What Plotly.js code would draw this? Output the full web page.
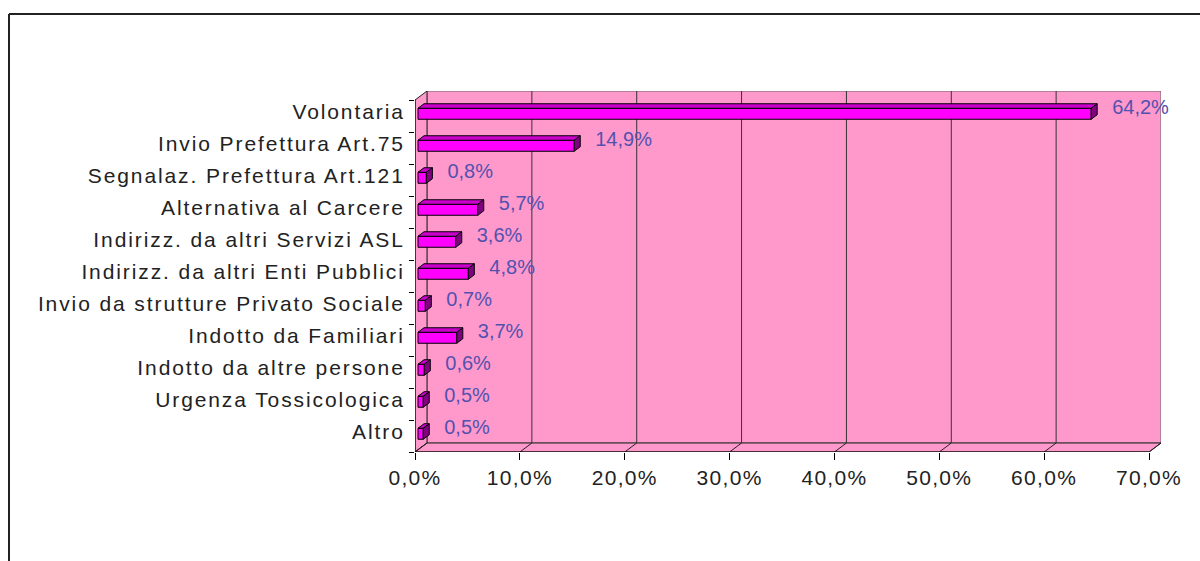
<!DOCTYPE html>
<html>
<head>
<meta charset="utf-8">
<script src="https://cdn.plot.ly/plotly-3.0.1.min.js"></script>
<style>
  html, body { margin:0; padding:0; background:#fff; }
  #chart { width:1200px; height:561px; }
  .xtick text { letter-spacing: 1.3px; }
  .ytick text { letter-spacing: 1.9px; }
</style>
</head>
<body>
<div id="chart"></div>
<script>
// ---- data ----
const categories = [
  'Volontaria',
  'Invio Prefettura Art.75',
  'Segnalaz. Prefettura Art.121',
  'Alternativa al Carcere',
  'Indirizz. da altri Servizi ASL',
  'Indirizz. da altri Enti Pubblici',
  'Invio da strutture Privato Sociale',
  'Indotto da Familiari',
  'Indotto da altre persone',
  'Urgenza Tossicologica',
  'Altro'
];
const values = [64.2, 14.9, 0.8, 5.7, 3.6, 4.8, 0.7, 3.7, 0.6, 0.5, 0.5];
const xTickValues = [0, 10, 20, 30, 40, 50, 60, 70];
const xTickLabels = ['0,0%', '10,0%', '20,0%', '30,0%', '40,0%', '50,0%', '60,0%', '70,0%'];

// ---- geometry (pixels) ----
const FIG_W = 1200, FIG_H = 561;
const L = 415, R = 1161, T = 91, B = 452;
const W = R - L, H = B - T;
const DEPTH_PX_X = 12, DEPTH_PX_Y = 9;
const xMax = xTickValues[xTickValues.length - 1];
const pxPerX = (W - DEPTH_PX_X) / xMax;
const pxPerCat = 32;
const DX = DEPTH_PX_X / pxPerX;
const DY = DEPTH_PX_Y / pxPerCat;
const n = categories.length;
const yBottom = n - 0.5, yTop = -0.5 - DY;
const barHalf = 5.5 / pxPerCat;
const fFront = 0.25, fBack = 0.75;

const idx = categories.map((c, i) => i);

// front faces
const barTrace = {
  type: 'bar', orientation: 'h',
  y: idx.map(i => i - fFront * DY),
  x: values,
  base: values.map(() => fFront * DX),
  width: 2 * barHalf,
  marker: { color: '#FF00FF', line: { color: '#000', width: 1 } },
  hoverinfo: 'skip', showlegend: false
};

// top and side faces
const topX = [], topY = [], sideX = [], sideY = [];
values.forEach((v, i) => {
  const x0 = fFront * DX, x1 = v + fFront * DX;
  const yc = i - fFront * DY;
  const yt = yc - barHalf, yb = yc + barHalf;
  const ddx = (fBack - fFront) * DX, ddy = (fBack - fFront) * DY;
  topX.push(x0, x1, x1 + ddx, x0 + ddx, x0, null);
  topY.push(yt, yt, yt - ddy, yt - ddy, yt, null);
  sideX.push(x1, x1 + ddx, x1 + ddx, x1, x1, null);
  sideY.push(yt, yt - ddy, yb - ddy, yb, yt, null);
});
const topTrace = {
  type: 'scatter', mode: 'lines', x: topX, y: topY, fill: 'toself',
  fillcolor: '#CC00CC', line: { color: '#000', width: 1 },
  hoverinfo: 'skip', showlegend: false
};
const sideTrace = {
  type: 'scatter', mode: 'lines', x: sideX, y: sideY, fill: 'toself',
  fillcolor: '#800080', line: { color: '#000', width: 1 },
  hoverinfo: 'skip', showlegend: false
};

// data labels
const LABEL_GAP_PX = 15, LABEL_UP_PX = 7;
const labelTrace = {
  type: 'scatter', mode: 'text', yaxis: 'y2',
  x: values.map(v => v + fBack * DX + LABEL_GAP_PX / pxPerX),
  y: idx.map(i => i - LABEL_UP_PX / pxPerCat),
  text: values.map(v => v.toFixed(1).replace('.', ',') + '%'),
  textposition: 'middle right',
  textfont: { family: 'Liberation Sans Narrow, Arial Narrow, Liberation Sans, sans-serif', size: 20, color: '#5252AE' },
  cliponaxis: false, hoverinfo: 'skip', showlegend: false
};

// ---- walls, gridlines, frame ----
const pink = '#FF99CC';
const shapes = [];
shapes.push({ type: 'rect', xref: 'x', yref: 'y', layer: 'below',
  x0: DX, x1: xMax + DX, y0: yBottom - DY, y1: -0.5 - DY,
  fillcolor: pink, line: { color: '#666', width: 1 } });
shapes.push({ type: 'path', xref: 'x', yref: 'y', layer: 'below',
  path: `M0,${-0.5} L${DX},${-0.5 - DY} L${DX},${yBottom - DY} L0,${yBottom} Z`,
  fillcolor: pink, line: { color: '#222', width: 1 } });
shapes.push({ type: 'path', xref: 'x', yref: 'y', layer: 'below',
  path: `M0,${yBottom} L${xMax},${yBottom} L${xMax + DX},${yBottom - DY} L${DX},${yBottom - DY} Z`,
  fillcolor: pink, line: { color: '#222', width: 1 } });
xTickValues.forEach(v => {
  if (v > 0 && v < xMax) {
    shapes.push({ type: 'line', xref: 'x', yref: 'y', layer: 'below',
      x0: v + DX, x1: v + DX, y0: yBottom - DY, y1: -0.5 - DY,
      line: { color: '#333', width: 1 } });
  }
  shapes.push({ type: 'line', xref: 'x', yref: 'y', layer: 'below',
    x0: v, x1: v + DX, y0: yBottom, y1: yBottom - DY,
    line: { color: '#222', width: 1 } });
});
shapes.push({ type: 'line', xref: 'x', yref: 'y', x0: 0, x1: 0, y0: -0.5, y1: yBottom,
  line: { color: '#000', width: 1 } });
shapes.push({ type: 'line', xref: 'x', yref: 'y', x0: 0, x1: xMax, y0: yBottom, y1: yBottom,
  line: { color: '#000', width: 1 } });
const px2paperX = px => (px - L) / W;
const px2paperY = py => (B - py) / H;
shapes.push({ type: 'line', xref: 'paper', yref: 'paper',
  x0: px2paperX(9), x1: px2paperX(FIG_W + 5), y0: px2paperY(14), y1: px2paperY(14),
  line: { color: '#222', width: 2 } });
shapes.push({ type: 'line', xref: 'paper', yref: 'paper',
  x0: px2paperX(9), x1: px2paperX(9), y0: px2paperY(14), y1: px2paperY(FIG_H + 5),
  line: { color: '#222', width: 2 } });

const tickFont = { family: 'Liberation Sans, Arial, sans-serif', size: 21, color: '#222' };

const layout = {
  width: FIG_W, height: FIG_H,
  margin: { l: L, r: FIG_W - R, t: T, b: FIG_H - B, pad: 0 },
  paper_bgcolor: '#fff', plot_bgcolor: '#fff',
  showlegend: false, hovermode: false, bargap: 0,
  xaxis: {
    range: [0, xMax + DX], tickvals: xTickValues, ticktext: xTickLabels,
    ticks: 'outside', ticklen: 7, tickcolor: '#000', tickwidth: 1,
    showgrid: false, zeroline: false, showline: false, tickfont: tickFont, fixedrange: true
  },
  yaxis: {
    range: [yBottom, yTop], tickvals: idx.map(i => i - 4 / pxPerCat), ticktext: categories,
    ticks: 'outside', ticklen: 5, tickcolor: 'rgba(0,0,0,0)',
    showgrid: false, zeroline: false, showline: false, tickfont: tickFont, fixedrange: true
  },
  yaxis2: {
    overlaying: 'y', anchor: 'x', side: 'left',
    range: [yBottom, yTop], tickvals: idx.concat([n]).map(i => i - 0.5),
    ticks: 'outside', ticklen: 5, tickcolor: '#000', showticklabels: false,
    showgrid: false, zeroline: false, showline: false, fixedrange: true
  },
  shapes: shapes
};

Plotly.newPlot('chart', [barTrace, topTrace, sideTrace, labelTrace], layout, { staticPlot: true, displayModeBar: false });
</script>
</body>
</html>
